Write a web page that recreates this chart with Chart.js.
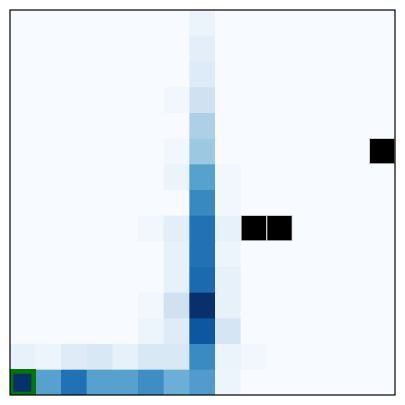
<!DOCTYPE html>
<html>
<head>
<meta charset="utf-8">
<script src="https://cdn.jsdelivr.net/npm/chart.js@4/dist/chart.umd.min.js"></script>
<style>
  html, body { margin: 0; padding: 0; background: #fff; }
  #wrap { width: 405px; height: 405px; }
</style>
</head>
<body>
<div id="wrap"><canvas id="myChart" width="405" height="405"></canvas></div>
<script>
// grid columns (x) and rows (y, row 0 at the top)
const cols = ['0', '1', '2', '3', '4', '5', '6', '7', '8', '9', '10', '11', '12', '13', '14'];

// visit intensity per cell, row by row from the top
const grid = [
  [0, 0, 0, 0, 0, 0, 0,    0.06, 0,    0,    0, 0, 0, 0, 0],
  [0, 0, 0, 0, 0, 0, 0,    0.10, 0,    0,    0, 0, 0, 0, 0],
  [0, 0, 0, 0, 0, 0, 0,    0.13, 0,    0,    0, 0, 0, 0, 0],
  [0, 0, 0, 0, 0, 0, 0.03, 0.20, 0,    0,    0, 0, 0, 0, 0],
  [0, 0, 0, 0, 0, 0, 0,    0.33, 0,    0,    0, 0, 0, 0, 0],
  [0, 0, 0, 0, 0, 0, 0.03, 0.38, 0,    0,    0, 0, 0, 0, 0],
  [0, 0, 0, 0, 0, 0, 0.06, 0.56, 0.03, 0,    0, 0, 0, 0, 0],
  [0, 0, 0, 0, 0, 0, 0,    0.66, 0.03, 0,    0, 0, 0, 0, 0],
  [0, 0, 0, 0, 0, 0.03, 0.10, 0.75, 0.08, 0,    0, 0, 0, 0, 0],
  [0, 0, 0, 0, 0, 0, 0.08, 0.75, 0.05, 0,    0, 0, 0, 0, 0],
  [0, 0, 0, 0, 0, 0, 0.08, 0.78, 0.08, 0,    0, 0, 0, 0, 0],
  [0, 0, 0, 0, 0, 0.03, 0.20, 1.00, 0.08, 0,    0, 0, 0, 0, 0],
  [0, 0, 0, 0, 0, 0.05, 0.12, 0.85, 0.17, 0,    0, 0, 0, 0, 0],
  [0.08, 0.05, 0.12, 0.15, 0.08, 0.15, 0.15, 0.65, 0.06, 0.03, 0, 0, 0, 0, 0],
  [1.00, 0.56, 0.75, 0.56, 0.56, 0.64, 0.50, 0.58, 0.05, 0,    0, 0, 0, 0, 0]
];

// walls as [col, row]
const obstacles = [[14, 5], [9, 8], [10, 8]];
// agent position [col, row]
const agent = [0, 14];

// matplotlib Blues
const blues = ['#f7fbff', '#deebf7', '#c6dbef', '#9ecae1', '#6baed6', '#4292c6', '#2171b5', '#08519c', '#08306b'];
function hex(h) { return [1, 3, 5].map(i => parseInt(h.substr(i, 2), 16)); }
function bluesColor(v) {
  v = Math.max(0, Math.min(1, v));
  const p = v * (blues.length - 1);
  const i = Math.min(Math.floor(p), blues.length - 2);
  const t = p - i;
  const a = hex(blues[i]), b = hex(blues[i + 1]);
  const c = a.map((x, k) => Math.round(x + (b[k] - x) * t));
  return 'rgb(' + c.join(',') + ')';
}

const datasets = grid.map((row, r) => ({
  data: row.map(() => [r, r + 1]),
  backgroundColor: row.map(v => bluesColor(v)),
  borderWidth: 0,
  grouped: false,
  barPercentage: 1,
  categoryPercentage: 1,
  order: 3
}));

const wallData = cols.map(() => null);
obstacles.forEach(([c, r]) => { wallData[c] = [r, r + 1]; });
datasets.push({
  data: wallData,
  backgroundColor: '#000000',
  borderColor: '#cccccc',
  borderWidth: 1,
  borderSkipped: false,
  grouped: false,
  barPercentage: 1,
  categoryPercentage: 1,
  order: 2
});

const agentData = cols.map(() => null);
agentData[agent[0]] = [agent[1], agent[1] + 1];
datasets.push({
  data: agentData,
  backgroundColor: 'rgba(0,0,0,0)',
  borderColor: '#037703',
  borderWidth: { top: 4, right: 4, bottom: 3, left: 3 },
  borderSkipped: false,
  grouped: false,
  barPercentage: 1,
  categoryPercentage: 1,
  order: 1
});

const frame = {
  id: 'frame',
  afterDraw(chart) {
    const { ctx, chartArea: a } = chart;
    ctx.save();
    ctx.strokeStyle = '#000';
    ctx.lineWidth = 1.2;
    ctx.strokeRect(a.left, a.top, a.right - a.left, a.bottom - a.top);
    ctx.restore();
  }
};

const config = {
  type: 'bar',
  data: { labels: cols, datasets: datasets },
  options: {
    responsive: false,
    animation: false,
    layout: { padding: { left: 10, right: 10, top: 10, bottom: 10 } },
    plugins: { legend: { display: false }, tooltip: { enabled: false } },
    scales: {
      x: { display: false },
      y: { display: false, min: 0, max: 15, reverse: true }
    }
  },
  plugins: [frame]
};

const myChart = new Chart(document.getElementById('myChart'), config);
</script>
</body>
</html>
